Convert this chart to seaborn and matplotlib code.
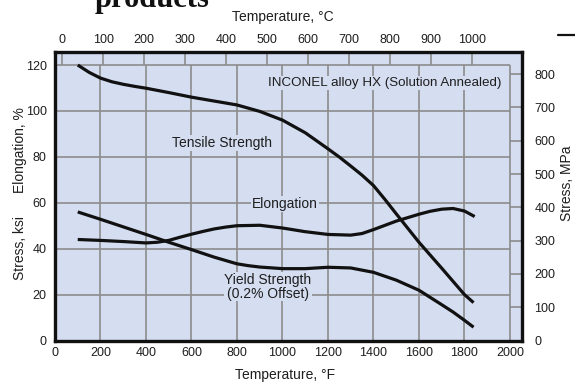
import matplotlib
matplotlib.use("Agg")
import matplotlib.pyplot as plt
from matplotlib.lines import Line2D
import seaborn as sns
import pandas as pd

# ---- data ----
ts_temp_f = [100, 150, 200, 250, 300, 350, 400, 500, 600, 700, 800, 900, 1000, 1100,
             1200, 1250, 1300, 1350, 1400, 1450, 1500, 1600, 1700, 1800, 1840]
ts_ksi = [120.0, 116.8, 114.3, 112.7, 111.6, 110.7, 109.9, 108.0, 106.0, 104.3, 102.6,
          99.8, 96.0, 90.5, 83.5, 79.9, 76.0, 72.0, 67.5, 61.5, 55.2, 42.8, 31.5, 20.0, 16.5]

el_temp_f = [100, 200, 300, 400, 450, 500, 550, 600, 650, 700, 750, 800, 900, 1000,
             1100, 1200, 1300, 1350, 1400, 1500, 1600, 1650, 1700, 1750, 1800, 1845]
el_pct = [44.0, 43.6, 43.1, 42.5, 42.8, 43.6, 45.0, 46.3, 47.5, 48.6, 49.4, 50.0, 50.2,
          49.0, 47.4, 46.2, 45.9, 46.6, 48.3, 52.0, 55.0, 56.3, 57.2, 57.5, 56.4, 54.0]

ys_temp_f = [100, 200, 300, 400, 500, 600, 700, 800, 850, 900, 1000, 1100, 1200, 1300,
             1400, 1500, 1600, 1700, 1750, 1800, 1840]
ys_ksi = [56.0, 52.8, 49.5, 46.2, 42.8, 39.6, 36.3, 33.4, 32.6, 32.0, 31.3, 31.3, 31.9,
          31.6, 29.7, 26.3, 21.9, 15.6, 12.4, 8.8, 5.8]

f_ticks = [0, 200, 400, 600, 800, 1000, 1200, 1400, 1600, 1800, 2000]
ksi_ticks = [0, 20, 40, 60, 80, 100, 120]
c_ticks = [0, 100, 200, 300, 400, 500, 600, 700, 800, 900, 1000]
mpa_ticks = [0, 100, 200, 300, 400, 500, 600, 700, 800]

series_names = ["Tensile Strength", "Elongation", "Yield Strength"]

# ---- style ----
sns.set_style("white")
plt.rcParams["font.family"] = ["Liberation Sans", "DejaVu Sans"]

BG = "#d5ddf1"
GRID = "#8c8c8c"
TXT = "#1e1e1e"

df = pd.concat([
    pd.DataFrame({"F": ts_temp_f, "v": ts_ksi, "s": series_names[0]}),
    pd.DataFrame({"F": el_temp_f, "v": el_pct, "s": series_names[1]}),
    pd.DataFrame({"F": ys_temp_f, "v": ys_ksi, "s": series_names[2]}),
], ignore_index=True)

fig = plt.figure(figsize=(5.75, 3.83), dpi=100)
W, H = 575, 383
L, R, T, B = 55, 522, 51.7, 340.5
ax = fig.add_axes([L / W, 1 - B / H, (R - L) / W, (B - T) / H])
ax.set_facecolor(BG)
XMAX = 2053
YMAX = 125.8
ax.set_xlim(0, XMAX)
ax.set_ylim(0, YMAX)

# grid box
ax.vlines(f_ticks[1:], 0, 120, color=GRID, lw=1.2, zorder=1)
ax.hlines(ksi_ticks[1:], 0, 2000, color=GRID, lw=1.2, zorder=1)
# inner ticks for celsius (top) and MPa (right)
c_pos = [c * 1.8 + 32 for c in c_ticks]
ax.vlines(c_pos, 120, YMAX, color=GRID, lw=1.2, zorder=1)
m_pos = [m / 6.895 for m in mpa_ticks[1:]]
ax.hlines(m_pos, 2000, XMAX, color=GRID, lw=1.2, zorder=1)

sns.lineplot(data=df, x="F", y="v", hue="s", units="s", estimator=None, sort=False,
             palette=["#111111"] * 3, linewidth=2.3, legend=False, ax=ax, zorder=3)
for ln in ax.get_lines():
    ln.set_solid_capstyle("butt")
    ln.set_solid_joinstyle("round")

for sp in ax.spines.values():
    sp.set_linewidth(2.4)
    sp.set_color("#111111")
    sp.set_visible(True)

ax.set_xticks(f_ticks)
ax.set_xticklabels([str(v) for v in f_ticks])
ax.set_yticks(ksi_ticks)
ax.set_yticklabels([str(v) for v in ksi_ticks])
ax.tick_params(axis="both", length=0, labelsize=9, labelcolor=TXT)
ax.tick_params(axis="x", pad=5)
ax.tick_params(axis="y", pad=6)
ax.set_xlabel("")
ax.set_ylabel("")

top = ax.secondary_xaxis("top", functions=(lambda f: (f - 32) / 1.8, lambda c: c * 1.8 + 32))
top.set_xticks(c_ticks)
top.set_xticklabels([str(v) for v in c_ticks])
top.tick_params(length=0, labelsize=9, labelcolor=TXT, pad=4)
top.spines["top"].set_visible(False)

right = ax.secondary_yaxis("right", functions=(lambda k: k * 6.895, lambda m: m / 6.895))
right.set_yticks(mpa_ticks)
right.set_yticklabels([str(v) for v in mpa_ticks])
right.tick_params(length=0, labelsize=9, labelcolor=TXT, pad=9)
right.spines["right"].set_visible(False)

box = dict(facecolor=BG, edgecolor="none", pad=0.6)
ax.text(936, 112.2, "INCONEL alloy HX (Solution Annealed)", fontsize=9.6, color=TXT,
        ha="left", va="center", bbox=box, zorder=2)
ax.text(734, 86.0, "Tensile Strength", fontsize=10, color=TXT, ha="center", va="center",
        bbox=box, zorder=2)
ax.text(1011, 59.4, "Elongation", fontsize=10, color=TXT, ha="center", va="center",
        bbox=box, zorder=2)
ax.text(936, 23.4, "Yield Strength\n(0.2% Offset)", fontsize=10, color=TXT, ha="center",
        va="center", linespacing=0.95, bbox=box, zorder=2)

# axis titles
fig.text(285 / W, 1 - 375 / H, "Temperature, °F", fontsize=10, color=TXT, ha="center", va="center")
fig.text(283 / W, 1 - 17 / H, "Temperature, °C", fontsize=10, color=TXT, ha="center", va="center")
fig.text(20 / W, 1 - 150 / H, "Elongation, %", fontsize=10, color=TXT, rotation=90,
         ha="center", va="center")
fig.text(20 / W, 1 - 248 / H, "Stress, ksi", fontsize=10, color=TXT, rotation=90,
         ha="center", va="center")
fig.text(567 / W, 1 - 183 / H, "Stress, MPa", fontsize=10, color=TXT, rotation=90,
         ha="center", va="center")

# heading fragment, clipped by the top edge as in the reference, and scan mark
fig.text(95 / W, 1 - 7 / H, "products", fontsize=22, fontweight="bold",
         family=["Liberation Serif", "DejaVu Serif"], ha="left", va="baseline", color="#111111")
fig.add_artist(Line2D([558 / W, 1.0], [1 - 35 / H, 1 - 35 / H], color="#111111", lw=1.6))

fig.savefig("out.png", dpi=100, facecolor="white")
